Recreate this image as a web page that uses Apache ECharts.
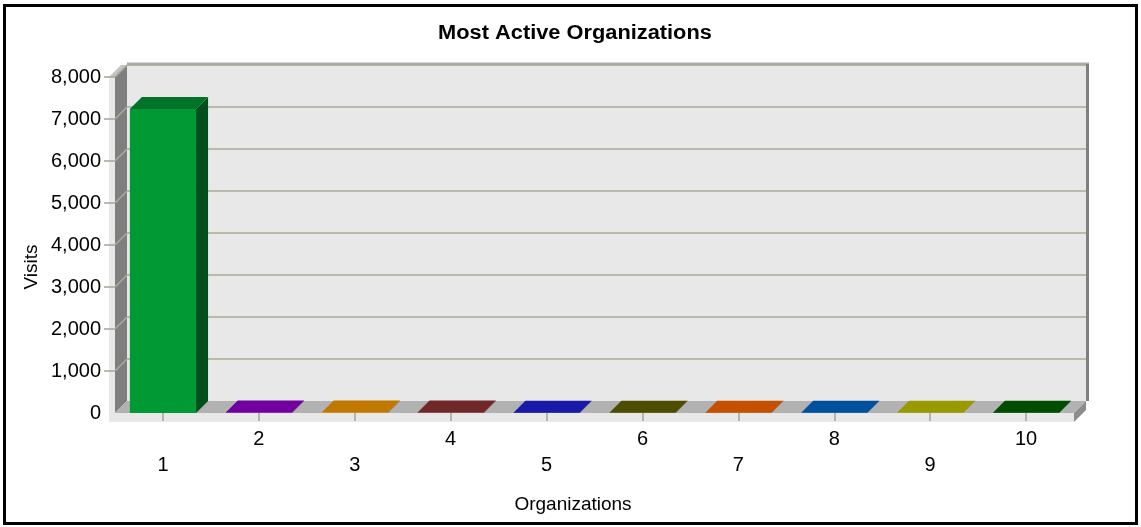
<!DOCTYPE html>
<html><head><meta charset="utf-8">
<script src="https://cdn.jsdelivr.net/npm/echarts@6/dist/echarts.min.js"></script>
<style>html,body{margin:0;padding:0;background:#fff}#c{width:1141px;height:527px}</style>
</head><body><div id="c"></div>
<script>
const categories = ['1', '2', '3', '4', '5', '6', '7', '8', '9', '10'];
const visits = [7240, 14, 11, 9, 8, 7, 6, 5, 5, 4];
const yTicks = [0, 1000, 2000, 3000, 4000, 5000, 6000, 7000, 8000];
const frontColors = ['#009933', '#9400d3', '#ff9f00', '#963636', '#2323e0', '#666600', '#ff6a00', '#006ad3', '#cccc00', '#006600'];
const topColors = ['#007329', '#7000a0', '#c07800', '#702828', '#1a1aa8', '#4d4d00', '#c45000', '#00509e', '#999900', '#004d00'];
const sideColors = ['#004f1c', '#4a006a', '#805000', '#4a1a1a', '#111170', '#333300', '#833500', '#00356a', '#666600', '#003300'];

const DEPTH = 12;
const FONT = 'Liberation Sans, Arial, sans-serif';
const GRID_COLOR = '#aca899';

function renderFrame(params, api) {
  const cs = params.coordSys;
  const L = cs.x, R = cs.x + cs.width, T = cs.y, B = cs.y + cs.height, D = DEPTH;
  const ch = [];
  ch.push({type: 'rect', shape: {x: L + D, y: T - D, width: R - L, height: B - T}, style: {fill: '#e8e8e8'}});
  ch.push({type: 'line', shape: {x1: L + D, y1: T - D - 1, x2: R + D + 3, y2: T - D - 1}, style: {stroke: '#ababab', lineWidth: 3}});
  ch.push({type: 'line', shape: {x1: R + D + 1.5, y1: T - D - 1, x2: R + D + 1.5, y2: B - D}, style: {stroke: '#808080', lineWidth: 3}});
  yTicks.forEach(function (v) {
    const y = api.coord([0, v])[1];
    if (v > 0) {
      ch.push({type: 'line', shape: {x1: L + D, y1: y - D, x2: R + D, y2: y - D}, style: {stroke: GRID_COLOR, lineWidth: 1.6}});
    }
  });
  ch.push({type: 'polygon', shape: {points: [[L, B], [L, T], [L + D, T - D], [L + D, B - D]]}, style: {fill: '#7f7f7f'}});
  ch.push({type: 'rect', shape: {x: L - 6, y: T, width: 6, height: B - T + 9}, style: {fill: '#e8e8e8'}});
  ch.push({type: 'polygon', shape: {points: [[L - 6, T], [L, T], [L + D, T - D], [L + D - 6, T - D]]}, style: {fill: '#c4c4c4'}});
  yTicks.forEach(function (v) {
    const y = api.coord([0, v])[1];
    if (v > 0) {
      ch.push({type: 'line', shape: {x1: L, y1: y, x2: L + D, y2: y - D}, style: {stroke: GRID_COLOR, lineWidth: 1.6}});
      ch.push({type: 'line', shape: {x1: L - 11, y1: y, x2: L, y2: y}, style: {stroke: GRID_COLOR, lineWidth: 1.6}});
    }
  });
  ch.push({type: 'polygon', shape: {points: [[L, B], [R, B], [R + D, B - D], [L + D, B - D]]}, style: {fill: '#b2b2b2'}});
  ch.push({type: 'rect', shape: {x: L - 6, y: B, width: R - L + 6, height: 9}, style: {fill: '#e8e8e8'}});
  ch.push({type: 'polygon', shape: {points: [[R, B], [R + D, B - D], [R + D, B - D + 9], [R, B + 9]]}, style: {fill: '#8c8c8c'}});
  return {type: 'group', children: ch};
}

function renderBar(params, api) {
  const i = api.value(0);
  const top = api.coord([i, api.value(1)]);
  const base = api.coord([i, 0]);
  const band = api.size([1, 0])[0];
  const bw = band * 0.69;
  const x0 = top[0] - bw / 2, x1 = top[0] + bw / 2;
  const yT = top[1], yB = base[1], D = DEPTH;
  const idx = params.dataIndex;
  return {type: 'group', children: [
    {type: 'rect', shape: {x: x0, y: yT, width: bw, height: yB - yT}, style: {fill: frontColors[idx]}},
    {type: 'polygon', shape: {points: [[x1, yT], [x1 + D, yT - D], [x1 + D, yB - D], [x1, yB]]}, style: {fill: sideColors[idx]}},
    {type: 'polygon', shape: {points: [[x0, yT], [x1, yT], [x1 + D, yT - D], [x0 + D, yT - D]]}, style: {fill: topColors[idx]}}
  ]};
}

const chart = echarts.init(document.getElementById('c'), null, {renderer: 'canvas'});
chart.setOption({
  animation: false,
  backgroundColor: '#ffffff',
  grid: {left: 115, right: 67, top: 77, bottom: 114},
  xAxis: {
    type: 'category', data: categories, z: 5,
    axisLine: {show: false},
    axisTick: {show: true, alignWithLabel: true, length: 8, lineStyle: {color: GRID_COLOR, width: 1.6}},
    axisLabel: {
      interval: 0, margin: 13, color: '#000', fontFamily: FONT, fontSize: 20, lineHeight: 26,
      formatter: function (v, i) { return i % 2 === 0 ? '\n' + v : v; }
    }
  },
  yAxis: {
    type: 'value', min: 0, max: 8000, interval: 1000,
    axisLine: {show: false}, axisTick: {show: false}, splitLine: {show: false},
    axisLabel: {margin: 14, color: '#000', fontFamily: FONT, fontSize: 20,
      formatter: function (v) { return v.toLocaleString('en-US'); }}
  },
  series: [
    {type: 'custom', renderItem: renderFrame, data: [[0, 0]], clip: false, z: 1, silent: true},
    {type: 'custom', renderItem: renderBar, data: visits.map(function (v, i) { return [i, v]; }), clip: false, z: 2}
  ],
  graphic: [
    {type: 'rect', shape: {x: 4.5, y: 5.5, width: 1132, height: 518}, style: {fill: null, stroke: '#000', lineWidth: 3}, z: 10},
    {type: 'text', x: 575, y: 33, scaleX: 1.09, style: {text: 'Most Active Organizations', font: 'bold 20px ' + FONT, fill: '#000', align: 'center', verticalAlign: 'middle'}},
    {type: 'text', x: 573, y: 505, style: {text: 'Organizations', font: '19px ' + FONT, fill: '#000', align: 'center', verticalAlign: 'middle'}},
    {type: 'text', x: 32, y: 267, rotation: Math.PI / 2, style: {text: 'Visits', font: '19px ' + FONT, fill: '#000', align: 'center', verticalAlign: 'middle'}}
  ]
});
</script>
</body></html>
